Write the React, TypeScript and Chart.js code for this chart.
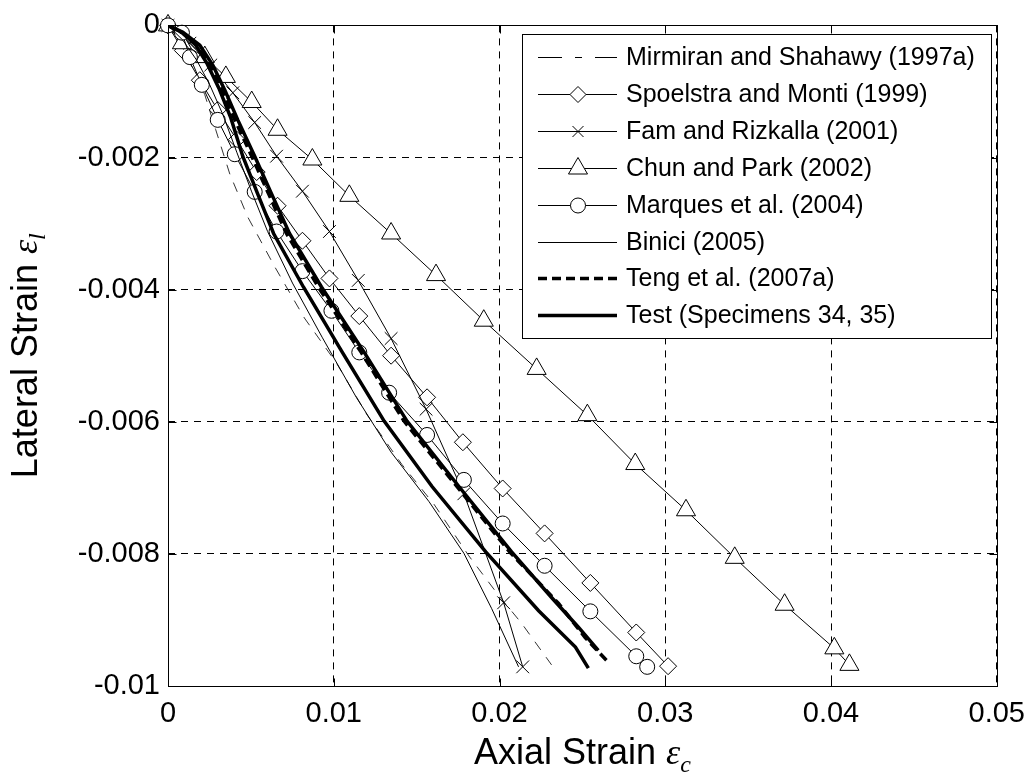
import { useEffect, useRef } from "react";
import { Chart, registerables } from "chart.js";

Chart.register(...registerables);

// ---------- data ----------
const xTickValues = [0, 0.01, 0.02, 0.03, 0.04, 0.05];
const yTickValues = [0, -0.002, -0.004, -0.006, -0.008, -0.01];

const legendLabels = [
  "Mirmiran and Shahawy (1997a)",
  "Spoelstra and Monti (1999)",
  "Fam and Rizkalla (2001)",
  "Chun and Park (2002)",
  "Marques et al. (2004)",
  "Binici (2005)",
  "Teng et al. (2007a)",
  "Test (Specimens 34, 35)",
];

const mirmiranX = [0, 0.00072, 0.0015, 0.00222, 0.00288, 0.00373, 0.00481, 0.00643, 0.00823, 0.01016, 0.01202, 0.01412, 0.01605, 0.01815, 0.01995, 0.02133, 0.02314];
const mirmiranY = [0, -0.0003, -0.00065, -0.00105, -0.00158, -0.00225, -0.0029, -0.00365, -0.00443, -0.00511, -0.0059, -0.00665, -0.00725, -0.00803, -0.00863, -0.00905, -0.00968];

const spoelstraX = [0, 0.0009, 0.00192, 0.003, 0.00415, 0.00535, 0.00661, 0.00811, 0.00974, 0.01154, 0.01346, 0.01563, 0.01779, 0.02019, 0.02272, 0.02548, 0.02825, 0.03017];
const spoelstraY = [0, -0.00038, -0.00083, -0.00128, -0.00173, -0.00222, -0.00273, -0.00326, -0.00383, -0.0044, -0.005, -0.00563, -0.00631, -0.00701, -0.00769, -0.00844, -0.00919, -0.0097];

const famX = [0, 0.00132, 0.00258, 0.00391, 0.00523, 0.00655, 0.00811, 0.00974, 0.01148, 0.01346, 0.01557, 0.01785, 0.02025, 0.0214];
const famY = [0, -0.00027, -0.0006, -0.00102, -0.00147, -0.00198, -0.00251, -0.00312, -0.00386, -0.00474, -0.00581, -0.00709, -0.00874, -0.00971];

const chunX = [0, 0.00084, 0.00222, 0.00349, 0.00505, 0.00661, 0.00871, 0.01094, 0.01346, 0.01617, 0.01905, 0.02224, 0.0253, 0.02819, 0.03125, 0.03419, 0.0372, 0.0402, 0.04111];
const chunY = [0, -0.00027, -0.00048, -0.00078, -0.00116, -0.00158, -0.00203, -0.00258, -0.00315, -0.00378, -0.00447, -0.0052, -0.0059, -0.00664, -0.00734, -0.00806, -0.00877, -0.00943, -0.00968];

const marquesX = [0, 0.00084, 0.00132, 0.00204, 0.003, 0.00403, 0.00523, 0.00655, 0.00811, 0.00986, 0.01154, 0.01334, 0.01563, 0.01785, 0.02019, 0.02272, 0.02548, 0.02825, 0.02891];
const marquesY = [0, -0.00011, -0.00048, -0.0009, -0.00143, -0.00195, -0.00252, -0.00312, -0.00372, -0.00432, -0.00495, -0.00556, -0.0062, -0.00688, -0.00754, -0.00818, -0.00887, -0.00955, -0.00971];

const biniciX = [0, 0.0009, 0.00174, 0.00252, 0.00331, 0.00415, 0.00505, 0.00601, 0.00751, 0.00932, 0.01136, 0.01346, 0.01575, 0.01785, 0.01953, 0.02115];
const biniciY = [0, -0.000225, -0.00053, -0.0009, -0.00135, -0.00192, -0.00252, -0.00312, -0.0039, -0.00473, -0.00563, -0.00646, -0.00721, -0.00799, -0.00883, -0.00971];

const tengX = [0, 0.0009, 0.00186, 0.00258, 0.00331, 0.00409, 0.00505, 0.00607, 0.00715, 0.00907, 0.01166, 0.01424, 0.01743, 0.02061, 0.02356, 0.02518, 0.02656];
const tengY = [0, -0.00012, -0.00033, -0.00063, -0.00101, -0.00146, -0.00198, -0.00255, -0.00315, -0.00396, -0.00495, -0.00599, -0.00698, -0.00797, -0.00875, -0.00927, -0.00964];

const testAX = [0, 0.00084, 0.00168, 0.00234, 0.00307, 0.00379, 0.00451, 0.00541, 0.00637, 0.00817, 0.01052, 0.01304, 0.01593, 0.01917, 0.02236, 0.02458, 0.02536];
const testAY = [0, -0.000105, -0.0003, -0.00057, -0.00095, -0.0014, -0.00198, -0.00255, -0.00315, -0.00396, -0.00495, -0.00599, -0.00698, -0.00797, -0.00886, -0.00941, -0.00973];

const testBX = [0, 0.0009, 0.00192, 0.0027, 0.00343, 0.00421, 0.00523, 0.00625, 0.00733, 0.00926, 0.01184, 0.01442, 0.01755, 0.02073, 0.02314, 0.02476, 0.02596];
const testBY = [0, -0.000105, -0.0003, -0.0006, -0.00098, -0.00143, -0.00198, -0.00255, -0.00315, -0.00396, -0.00495, -0.00599, -0.00698, -0.00797, -0.00866, -0.00911, -0.00946];

// ---------- helpers ----------
const pts = (xs: number[], ys: number[]) => xs.map((x, i) => ({ x, y: ys[i] }));
const fmt = (v: number) => {
  const r = Math.round(v * 100000) / 100000;
  return r === 0 ? "0" : String(r);
};

const SANS = "'Liberation Sans', Arial, sans-serif";
const SERIF = "'Liberation Serif', 'Times New Roman', serif";

type Marker = "none" | "diamond" | "cross" | "triangle" | "circle";

function drawMarker(ctx: CanvasRenderingContext2D, m: Marker, x: number, y: number) {
  ctx.save();
  ctx.lineWidth = 1;
  ctx.strokeStyle = "#000";
  ctx.fillStyle = "#fff";
  ctx.setLineDash([]);
  ctx.beginPath();
  if (m === "diamond") {
    const r = 8;
    ctx.moveTo(x, y - r);
    ctx.lineTo(x + r, y);
    ctx.lineTo(x, y + r);
    ctx.lineTo(x - r, y);
    ctx.closePath();
    ctx.fill();
    ctx.stroke();
  } else if (m === "cross") {
    const r = 5.5;
    ctx.moveTo(x - r, y - r);
    ctx.lineTo(x + r, y + r);
    ctx.moveTo(x + r, y - r);
    ctx.lineTo(x - r, y + r);
    ctx.stroke();
  } else if (m === "triangle") {
    const r = 11;
    ctx.moveTo(x, y - r);
    ctx.lineTo(x + r * 0.866, y + r * 0.5);
    ctx.lineTo(x - r * 0.866, y + r * 0.5);
    ctx.closePath();
    ctx.fill();
    ctx.stroke();
  } else if (m === "circle") {
    ctx.arc(x, y, 7.5, 0, Math.PI * 2);
    ctx.fill();
    ctx.stroke();
  }
  ctx.restore();
}

const legendStyles: { dash: number[]; width: number; marker: Marker }[] = [
  { dash: [24, 13, 7, 13, 30], width: 1, marker: "none" },
  { dash: [], width: 1, marker: "diamond" },
  { dash: [], width: 1, marker: "cross" },
  { dash: [], width: 1, marker: "triangle" },
  { dash: [], width: 1, marker: "circle" },
  { dash: [], width: 1, marker: "none" },
  { dash: [9, 5], width: 3.5, marker: "none" },
  { dash: [], width: 3.5, marker: "none" },
];

const framePlugin = {
  id: "frame",
  afterDraw(chart: any) {
    const ctx: CanvasRenderingContext2D = chart.ctx;
    const { left, top, right, bottom } = chart.chartArea;
    const xs = chart.scales.x;
    const ys = chart.scales.y;
    ctx.save();
    ctx.strokeStyle = "#000";
    ctx.lineWidth = 1;
    ctx.setLineDash([]);
    const L = Math.round(left) + 0.5;
    const T = Math.round(top) + 0.5;
    const R = Math.round(right) + 0.5;
    const B = Math.round(bottom) + 0.5;
    ctx.strokeRect(L, T, R - L, B - T);
    const tl = 8;
    ctx.beginPath();
    xTickValues.forEach((v) => {
      const px = Math.round(xs.getPixelForValue(v)) + 0.5;
      ctx.moveTo(px, B);
      ctx.lineTo(px, B - tl);
      ctx.moveTo(px, T);
      ctx.lineTo(px, T + tl);
    });
    yTickValues.forEach((v) => {
      const py = Math.round(ys.getPixelForValue(v)) + 0.5;
      ctx.moveTo(L, py);
      ctx.lineTo(L + tl, py);
      ctx.moveTo(R, py);
      ctx.lineTo(R - tl, py);
    });
    ctx.stroke();

    // legend
    const bx = 522.5, by = 34.5, bw = 469, bh = 304;
    ctx.fillStyle = "#fff";
    ctx.fillRect(bx, by, bw, bh);
    ctx.strokeRect(bx, by, bw, bh);
    const rowY0 = 57;
    const rowStep = 36.9;
    ctx.font = `25px ${SANS}`;
    ctx.textBaseline = "middle";
    ctx.textAlign = "left";
    legendLabels.forEach((label, i) => {
      const y = Math.round(rowY0 + i * rowStep) + 0.5;
      const st = legendStyles[i];
      ctx.save();
      ctx.strokeStyle = "#000";
      ctx.lineWidth = st.width;
      ctx.setLineDash(st.dash);
      ctx.beginPath();
      ctx.moveTo(538, y);
      ctx.lineTo(617, y);
      ctx.stroke();
      ctx.restore();
      if (st.marker !== "none") drawMarker(ctx, st.marker, 578, y);
      ctx.fillStyle = "#000";
      ctx.fillText(label, 626, y + 1);
    });

    // axis titles
    const cx = (left + right) / 2;
    ctx.fillStyle = "#000";
    ctx.textBaseline = "alphabetic";
    const mainFont = `36px ${SANS}`;
    const epsFont = `italic 36px ${SERIF}`;
    const subFont = `italic 24px ${SERIF}`;
    const measure = (main: string, sub: string) => {
      ctx.font = mainFont;
      const w1 = ctx.measureText(main).width;
      ctx.font = epsFont;
      const w2 = ctx.measureText("\u03b5").width;
      ctx.font = subFont;
      const w3 = ctx.measureText(sub).width;
      return { w1, w2, w3, total: w1 + w2 + w3 };
    };
    const t1 = measure("Axial Strain ", "c");
    const x0 = cx - t1.total / 2;
    const base1 = 764;
    ctx.textAlign = "left";
    ctx.font = mainFont;
    ctx.fillText("Axial Strain ", x0, base1);
    ctx.font = epsFont;
    ctx.fillText("\u03b5", x0 + t1.w1, base1);
    ctx.font = subFont;
    ctx.fillText("c", x0 + t1.w1 + t1.w2, base1 + 8);

    const cy = (top + bottom) / 2;
    const t2 = measure("Lateral Strain ", "l");
    ctx.save();
    ctx.translate(37, cy);
    ctx.rotate(-Math.PI / 2);
    const y0 = -t2.total / 2;
    ctx.font = mainFont;
    ctx.fillText("Lateral Strain ", y0, 0);
    ctx.font = epsFont;
    ctx.fillText("\u03b5", y0 + t2.w1, 0);
    ctx.font = subFont;
    ctx.fillText("l", y0 + t2.w1 + t2.w2, 8);
    ctx.restore();

    ctx.restore();
  },
};

const App = () => {
  const ref = useRef<HTMLCanvasElement>(null);
  useEffect(() => {
    if (!ref.current) return;
    const thin = { borderColor: "#000", borderWidth: 1, showLine: true, fill: false, tension: 0, clip: false as any };
    const mk = (style: string, r: number) => ({
      pointStyle: style,
      pointRadius: r,
      pointHoverRadius: r,
      pointBackgroundColor: "#fff",
      pointBorderColor: "#000",
      pointBorderWidth: 1,
    });
    const chart = new Chart(ref.current, {
      type: "scatter",
      data: {
        datasets: [
          { label: legendLabels[7], data: pts(testAX, testAY), borderColor: "#000", borderWidth: 3.5, showLine: true, pointRadius: 0, tension: 0 },
          { label: legendLabels[7] + " B", data: pts(testBX, testBY), borderColor: "#000", borderWidth: 3.5, showLine: true, pointRadius: 0, tension: 0 },
          { label: legendLabels[6], data: pts(tengX, tengY), borderColor: "#000", borderWidth: 3.5, borderDash: [9, 5], showLine: true, pointRadius: 0, tension: 0 },
          { label: legendLabels[5], data: pts(biniciX, biniciY), ...thin, pointRadius: 0 },
          { label: legendLabels[4], data: pts(marquesX, marquesY), ...thin, ...mk("circle", 7.5) },
          { label: legendLabels[3], data: pts(chunX, chunY), ...thin, ...mk("triangle", 11) },
          { label: legendLabels[2], data: pts(famX, famY), ...thin, ...mk("crossRot", 9) },
          { label: legendLabels[1], data: pts(spoelstraX, spoelstraY), ...thin, ...mk("rectRot", 8.5) },
          { label: legendLabels[0], data: pts(mirmiranX, mirmiranY), borderColor: "#333", borderWidth: 1, borderDash: [10, 9], showLine: true, pointRadius: 0, tension: 0 },
        ] as any,
      },
      options: {
        animation: false,
        responsive: false,
        devicePixelRatio: 1,
        layout: { padding: { left: 0, top: 20, right: 36, bottom: 0 } },
        plugins: { legend: { display: false }, tooltip: { enabled: false }, title: { display: false } },
        events: [],
        scales: {
          x: {
            type: "linear",
            min: 0,
            max: 0.05,
            afterBuildTicks: (s: any) => {
              s.ticks = xTickValues.map((v) => ({ value: v }));
            },
            afterFit: (s: any) => {
              s.height = 94;
            },
            ticks: {
              color: "#000",
              font: { family: SANS, size: 29 },
              padding: 11,
              maxRotation: 0,
              autoSkip: false,
              callback: (v: any) => fmt(Number(v)),
            },
            grid: { color: "#000", lineWidth: 1, drawTicks: false },
            border: { display: false, dash: [7, 6] },
          },
          y: {
            type: "linear",
            min: -0.01,
            max: 0,
            afterBuildTicks: (s: any) => {
              s.ticks = yTickValues.map((v) => ({ value: v }));
            },
            afterFit: (s: any) => {
              s.width = 168;
            },
            ticks: {
              color: "#000",
              font: { family: SANS, size: 29 },
              padding: 8,
              autoSkip: false,
              callback: (v: any) => fmt(Number(v)),
            },
            grid: { color: "#000", lineWidth: 1, drawTicks: false },
            border: { display: false, dash: [7, 6] },
          },
        },
      } as any,
      plugins: [framePlugin],
    });
    return () => chart.destroy();
  }, []);
  return (
    <canvas
      ref={ref}
      width={1036}
      height={780}
      style={{ position: "absolute", left: 0, top: 0, width: "1036px", height: "780px", background: "#fff" }}
    />
  );
};

export default App;
